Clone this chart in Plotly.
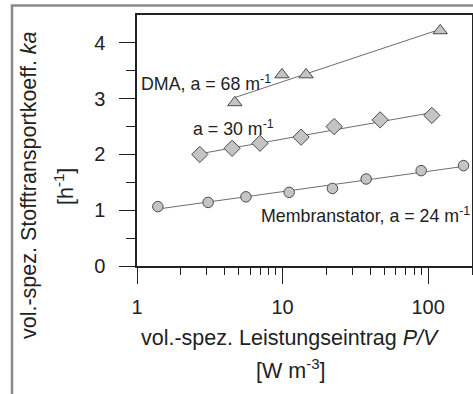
import numpy as np
import plotly.graph_objects as go

# DMA, a = 68 m^-1 (triangles)
dma_x = [4.7, 9.9, 14.5, 121]
dma_y = [2.93, 3.43, 3.43, 4.22]
# a = 30 m^-1 (diamonds)
a30_x = [2.7, 4.5, 7.0, 13.4, 22.6, 46.8, 106]
a30_y = [2.00, 2.11, 2.20, 2.31, 2.50, 2.62, 2.70]
# Membranstator, a = 24 m^-1 (circles)
mem_x = [1.39, 3.08, 5.6, 11.1, 22, 37.5, 89.5, 175]
mem_y = [1.065, 1.14, 1.24, 1.32, 1.39, 1.56, 1.71, 1.80]

y_ticks = [0, 1, 2, 3, 4]
x_ticks = [1, 10, 100]
x_ticklabels = ["1", "10", "100"]

FONT = "Liberation Sans, Arial, sans-serif"
TXT = "#222222"
FILL = "#c4c4c4"
EDGE = "#4a4a4a"

fig = go.Figure()

series = [
    (mem_x, mem_y, "circle", 10.5),
    (a30_x, a30_y, "diamond", 12.5),
    (dma_x, dma_y, "triangle-up", 12.5),
]
for xs, ys, sym, sz in series:
    lx = np.log10(xs)
    k, b = np.polyfit(lx, ys, 1)
    fx = [min(xs), max(xs)]
    fy = [k * np.log10(v) + b for v in fx]
    fig.add_trace(go.Scatter(x=fx, y=fy, mode="lines",
                             line=dict(color="#6e6e6e", width=1),
                             showlegend=False, hoverinfo="skip"))
    fig.add_trace(go.Scatter(x=xs, y=ys, mode="markers",
                             marker=dict(symbol=sym, size=sz, color=FILL,
                                         line=dict(color=EDGE, width=1)),
                             showlegend=False))

fig.update_layout(
    width=473, height=394,
    margin=dict(l=137, r=1, t=15, b=128, autoexpand=False),
    paper_bgcolor="white", plot_bgcolor="white",
    font=dict(family=FONT, color=TXT, size=20),
    showlegend=False,
)
fig.update_xaxes(
    type="log", range=[0, np.log10(200)], automargin=False,
    tickvals=x_ticks, ticktext=x_ticklabels,
    ticks="outside", ticklen=16, tickwidth=1.3, tickcolor="#222",
    showline=True, linecolor="#222", linewidth=1.5, mirror=True,
    showgrid=False, zeroline=False,
    tickfont=dict(size=20), ticklabelstandoff=6,
    minor=dict(tickvals=[2, 3, 4, 5, 6, 7, 8, 9, 20, 30, 40, 50, 60, 70, 80, 90, 200],
               ticks="outside", ticklen=7, tickwidth=1.3, tickcolor="#222", showgrid=False),
)
fig.update_yaxes(
    range=[0, 4.5], automargin=False,
    tickvals=y_ticks,
    ticks="outside", ticklen=16, tickwidth=1.3, tickcolor="#222",
    showline=True, linecolor="#222", linewidth=1.5, mirror=True,
    showgrid=False, zeroline=False,
    tickfont=dict(size=20), ticklabelstandoff=10,
    minor=dict(tickvals=[0.5, 1.5, 2.5, 3.5], ticks="outside", ticklen=9,
               tickwidth=1.3, tickcolor="#222", showgrid=False),
)

W, H = 335.0, 251.0
def px(x):
    return (x - 137) / W
def py(y):
    return (266 - y) / H

ANN = 17.8
TIT = 21.5
ann = [
    dict(text="DMA, a = 68 m<sup>-1</sup>", x=px(139), y=py(83), xanchor="left", yanchor="middle", size=ANN),
    dict(text="a = 30 m<sup>-1</sup>", x=px(191), y=py(128), xanchor="left", yanchor="middle", size=ANN),
    dict(text="Membranstator, a = 24 m<sup>-1</sup>", x=px(259), y=py(215), xanchor="left", yanchor="middle", size=ANN),
    dict(text="vol.-spez. Leistungseintrag <i>P/V</i>", x=px(290), y=py(338), xanchor="center", yanchor="middle", size=TIT),
    dict(text="[W m<sup>-3</sup>]", x=px(291), y=py(369), xanchor="center", yanchor="middle", size=TIT),
]
for a in ann:
    fig.add_annotation(text=a["text"], x=a["x"], y=a["y"], xref="paper", yref="paper",
                       xanchor=a["xanchor"], yanchor=a["yanchor"], showarrow=False,
                       font=dict(size=a["size"], family=FONT, color=TXT))

fig.add_annotation(text="vol.-spez. Stofftransportkoeff. <i>ka</i>", x=px(29), y=py(185),
                   xref="paper", yref="paper", textangle=-90, showarrow=False,
                   xanchor="center", yanchor="middle", font=dict(size=TIT, family=FONT, color=TXT))
fig.add_annotation(text="[h<sup>-1</sup>]", x=px(64), y=py(187),
                   xref="paper", yref="paper", textangle=-90, showarrow=False,
                   xanchor="center", yanchor="middle", font=dict(size=TIT, family=FONT, color=TXT))

# outer grey frame
fig.add_shape(type="rect", xref="paper", yref="paper", x0=px(12), x1=px(490), y0=py(5.5), y1=py(420),
              line=dict(color="#8a8a8a", width=2.5), fillcolor="rgba(0,0,0,0)", layer="below")

fig.write_html("out.html", config={"displayModeBar": False},
               post_script="document.body.style.margin='0';document.body.style.overflow='hidden';")
